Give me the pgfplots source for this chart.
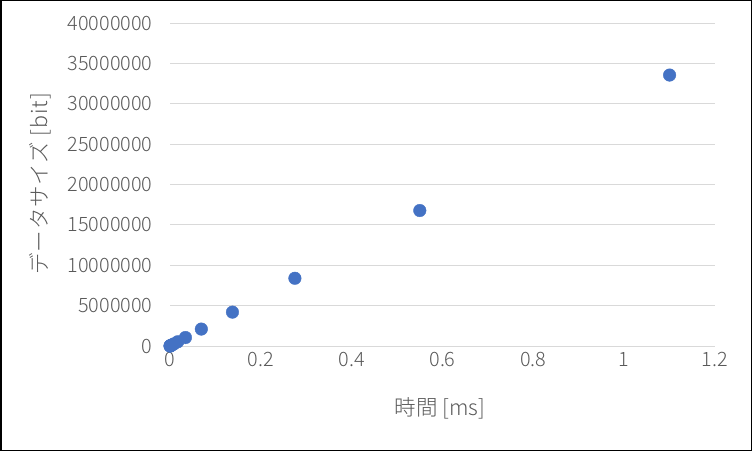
\documentclass[border=0pt]{standalone}
\usepackage{pgfplots}
\pgfplotsset{compat=1.18}
\usepackage{fontspec}
\setmainfont{Noto Sans CJK JP}[UprightFont={* Light}]
\definecolor{txt}{HTML}{595959}
\definecolor{grd}{HTML}{D9D9D9}
\definecolor{ptc}{HTML}{4472C4}
\begin{document}
\begin{tikzpicture}[x=1pt,y=1pt]
\draw[black, line width=1.5pt] (0.75,0.75) rectangle (751.25,450.25);
\begin{axis}[
  at={(170pt,105pt)}, anchor=south west,
  scale only axis, width=545pt, height=323pt,
  xmin=0, xmax=1.2, ymin=0, ymax=40000000,
  xtick={0,0.2,0.4,0.6,0.8,1,1.2},
  xticklabels={0,0.2,0.4,0.6,0.8,1,1.2},
  ytick={0,5000000,10000000,15000000,20000000,25000000,30000000,35000000,40000000},
  yticklabels={0,5000000,10000000,15000000,20000000,25000000,30000000,35000000,40000000},
  scaled y ticks=false,
  ymajorgrids, major grid style={grd, line width=1pt},
  axis line style={draw=none},
  axis x line*=bottom, axis y line*=left,
  x axis line style={draw=grd, line width=1pt},
  major tick length=0pt,
  tick label style={font=\fontsize{19.8}{19.8}\selectfont, text=txt},
  yticklabel style={xshift=-14pt},
  xticklabel style={yshift=-3pt},
  xlabel={時間 [ms]}, ylabel={\addfontfeature{LetterSpace=4}データサイズ [bit]},
  label style={font=\fontsize{21.5}{21.5}\selectfont, text=txt},
  xlabel style={at={(axis description cs:0.495,-0.192)}, anchor=center},
  ylabel style={at={(axis description cs:-0.238,0.502)}, anchor=center},
  clip=false,
]
\addplot[only marks, mark=*, mark size=6.3pt, mark options={fill=ptc, draw=ptc}] coordinates {
(1.1,33554432)
(0.55,16777216)
(0.275,8388608)
(0.1375,4194304)
(0.069,2097152)
(0.034,1048576)
(0.017,524288)
(0.0086,262144)
(0.0043,131072)
(0.0021,65536)
(0.0011,32768)
(0.0005,16384)
(0.0003,8192)
(0.0001,4096)
};
\end{axis}
\end{tikzpicture}
\end{document}
